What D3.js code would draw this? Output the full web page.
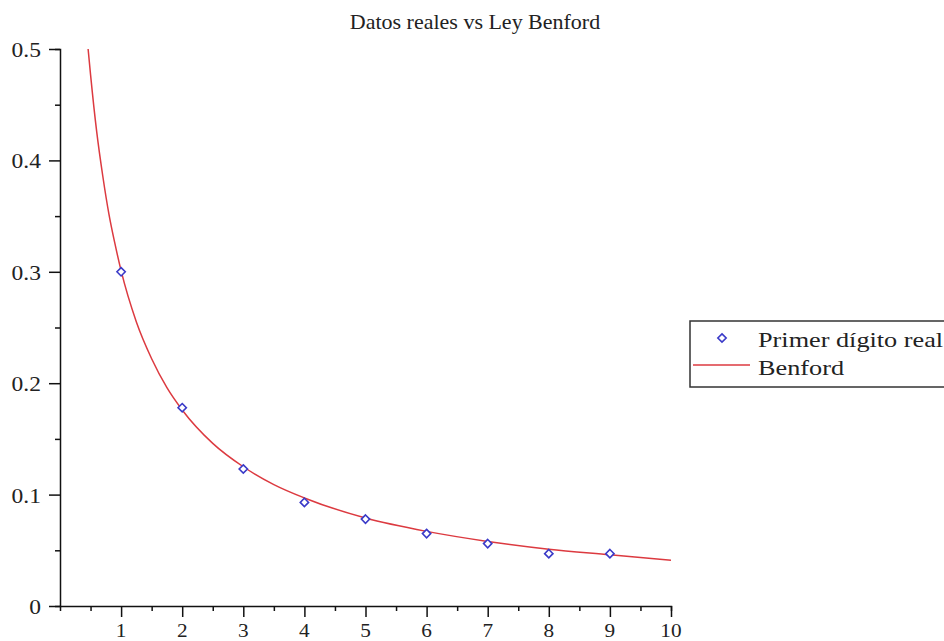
<!DOCTYPE html>
<html>
<head>
<meta charset="utf-8">
<script src="https://cdn.jsdelivr.net/npm/d3@7"></script>
<style>
  body { margin: 0; background: #fff; }
  svg text { font-family: "Liberation Serif", "Times New Roman", serif; fill: #222; }
</style>
</head>
<body>
<div id="chart"></div>
<script>
// observed first-digit frequencies
var digits = [1, 2, 3, 4, 5, 6, 7, 8, 9];
var observed = [0.300, 0.178, 0.123, 0.093, 0.078, 0.065, 0.056, 0.047, 0.047];

// Benford curve
var curveX = [0.46, 0.5, 0.6, 0.7, 0.8, 0.9, 1, 1.25, 1.5, 1.75, 2, 2.5, 3, 3.5, 4, 5, 6, 7, 8, 9, 10];
var curveY = [0.5, 0.477, 0.426, 0.386, 0.352, 0.325, 0.301, 0.255, 0.222, 0.196, 0.176, 0.146, 0.125, 0.109, 0.097, 0.079, 0.067, 0.058, 0.051, 0.046, 0.041];

var xTicks = [1, 2, 3, 4, 5, 6, 7, 8, 9, 10];
var yTicks = [0, 0.1, 0.2, 0.3, 0.4, 0.5];
var legendLabels = ["Primer dígito real", "Benford"];
var title = "Datos reales vs Ley Benford";

function createChart() {
    var svgWidth = 944;
    var svgHeight = 641;
    var red = "#dc3a40";
    var blue = "#3a3ac8";
    var stretch = 1.12; // the original text is a bit wider than Liberation Serif

    var svg = d3.select("#chart")
                .append("svg")
                .attr("width", svgWidth)
                .attr("height", svgHeight);

    var x = d3.scaleLinear().domain([0, 10]).range([60, 671]);
    var y = d3.scaleLinear().domain([0, 0.5]).range([606, 49]);

    // y axis, major + minor ticks
    var yAxis = svg.append("g").attr("transform", "translate(60,0)");
    yAxis.call(d3.axisLeft(y).tickValues(d3.range(0, 0.51, 0.05)).tickSize(5).tickFormat(""));
    yAxis.selectAll(".tick").filter(function(d) { return Math.round(d * 100) % 10 === 0; })
         .select("line").attr("x2", -11);
    svg.append("g").selectAll("text")
       .data(yTicks)
       .enter()
       .append("text")
       .attr("transform", function(d) { return "translate(41," + (y(d) + 8) + ") scale(" + stretch + ",1)"; })
       .attr("text-anchor", "end")
       .attr("font-size", "21px")
       .text(function(d) { return d === 0 ? "0" : d3.format(".1f")(d); });

    // x axis
    var xAxis = svg.append("g").attr("transform", "translate(0,606)");
    xAxis.call(d3.axisBottom(x).tickValues(d3.range(0.5, 10.01, 0.5)).tickSize(5).tickFormat(""));
    xAxis.selectAll(".tick").filter(function(d) { return d % 1 === 0; })
         .select("line").attr("y2", 11);
    svg.append("g").selectAll("text")
       .data(xTicks)
       .enter()
       .append("text")
       .attr("transform", function(d) { return "translate(" + x(d) + ",637) scale(" + stretch + ",1)"; })
       .attr("text-anchor", "middle")
       .attr("font-size", "19px")
       .text(function(d) { return d; });

    svg.selectAll(".domain").attr("stroke", "#111").attr("stroke-width", 1.5);
    svg.selectAll(".tick line").attr("stroke", "#111").attr("stroke-width", 1.5);

    // Benford curve
    var line = d3.line()
                 .x(function(d) { return x(d[0]); })
                 .y(function(d) { return y(d[1]); })
                 .curve(d3.curveMonotoneX);
    svg.append("path")
       .datum(d3.zip(curveX, curveY))
       .attr("d", line)
       .attr("fill", "none")
       .attr("stroke", red)
       .attr("stroke-width", 1.5);

    // observed points as diamonds
    var diamond = d3.symbol().type(d3.symbolDiamond2).size(44);
    svg.selectAll("path.pt")
       .data(d3.zip(digits, observed))
       .enter()
       .append("path")
       .attr("class", "pt")
       .attr("d", diamond)
       .attr("transform", function(d) { return "translate(" + x(d[0]) + "," + y(d[1]) + ")"; })
       .attr("fill", "white")
       .attr("stroke", blue)
       .attr("stroke-width", 1.6);

    // title
    svg.append("text")
       .attr("transform", "translate(475,29) scale(1.1,1)")
       .attr("text-anchor", "middle")
       .attr("font-size", "20px")
       .text(title);

    // legend
    var lg = svg.append("g");
    lg.append("rect")
      .attr("x", 690)
      .attr("y", 321)
      .attr("width", 270)
      .attr("height", 66)
      .attr("fill", "white")
      .attr("stroke", "#333")
      .attr("stroke-width", 1.5);
    lg.append("path")
      .attr("d", diamond)
      .attr("transform", "translate(722,338)")
      .attr("fill", "white")
      .attr("stroke", blue)
      .attr("stroke-width", 1.6);
    lg.append("line")
      .attr("x1", 693).attr("x2", 750)
      .attr("y1", 365).attr("y2", 365)
      .attr("stroke", red)
      .attr("stroke-width", 1.5);
    lg.selectAll("text.lbl")
      .data(legendLabels)
      .enter()
      .append("text")
      .attr("class", "lbl")
      .attr("transform", function(d, i) { return "translate(758," + (347 + i * 28) + ") scale(1.25,1)"; })
      .attr("font-size", "21px")
      .text(function(d) { return d; });
}

createChart();
</script>
</body>
</html>
